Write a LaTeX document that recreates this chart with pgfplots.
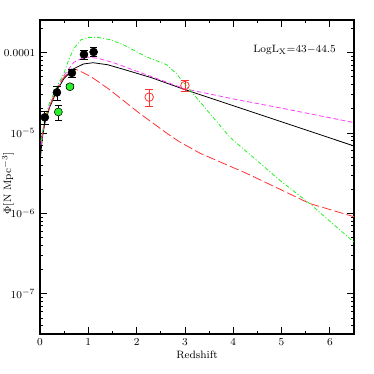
\documentclass[border=0pt]{standalone}
\usepackage{pgfplots}
\pgfplotsset{compat=1.18}
\definecolor{cgreen}{RGB}{40,240,40}
\definecolor{cred}{RGB}{255,50,50}
\definecolor{cmag}{RGB}{255,60,255}
\begin{document}
\begin{tikzpicture}
\begin{axis}[
  scale only axis, width=235.5pt, height=235.5pt,
  xmin=0, xmax=6.5, ymode=log, ymin=3.16e-8, ymax=2.55e-4,
  xtick={0,1,2,3,4,5,6}, minor x tick num=1,
  ytick={1e-7,1e-6,1e-5,1e-4},
  yticklabels={$10^{-7}$,$10^{-6}$,$10^{-5}$,0.0001},
  minor ytick={4e-8,5e-8,6e-8,7e-8,8e-8,9e-8,
    2e-7,3e-7,4e-7,5e-7,6e-7,7e-7,8e-7,9e-7,
    2e-6,3e-6,4e-6,5e-6,6e-6,7e-6,8e-6,9e-6,
    2e-5,3e-5,4e-5,5e-5,6e-5,7e-5,8e-5,9e-5,2e-4},
  tick pos=both, tick align=inside,
  major tick length=5pt, minor tick length=2.5pt,
  axis line style={line width=0.8pt}, tick style={line width=0.6pt, black},
  font=\footnotesize,
  xlabel={Redshift}, ylabel={$\Phi$[N Mpc$^{-3}$]},
  x label style={at={(axis description cs:0.5,-0.067)}, anchor=center},
  y label style={at={(axis description cs:-0.102,0.48)}, anchor=center},
  clip=true,
]
% curves
\addplot[black, line width=0.6pt] coordinates {
(0.01,5.0e-6) (0.05,8.9e-6) (0.1,1.32e-5) (0.2,2.09e-5) (0.35,3.39e-5)
(0.5,4.79e-5) (0.7,6.31e-5) (0.9,7.24e-5) (1.1,7.5e-5) (1.4,7.08e-5)
(1.8,6.03e-5) (2.3,4.9e-5) (3.0,3.47e-5) (4.0,2.19e-5) (5.0,1.38e-5) (6.5,6.9e-6)};
\addplot[cmag, line width=0.6pt, dash pattern=on 3.5pt off 2pt] coordinates {
(0.02,7.1e-6) (0.05,9.5e-6) (0.1,1.38e-5) (0.2,2.19e-5) (0.35,3.55e-5)
(0.5,5.25e-5) (0.7,7.59e-5) (0.9,8.71e-5) (1.0,8.81e-5) (1.2,8.51e-5)
(1.5,7.59e-5) (2.0,5.89e-5) (2.5,4.57e-5) (3.0,3.55e-5) (4.0,2.66e-5)
(5.0,2.04e-5) (6.5,1.35e-5)};
\addplot[cred, line width=0.6pt, dash pattern=on 7pt off 2.5pt] coordinates {
(0.02,7.9e-6) (0.05,1.0e-5) (0.1,1.38e-5) (0.2,2.19e-5) (0.35,3.55e-5)
(0.5,5.01e-5) (0.65,6.03e-5) (0.75,6.17e-5) (0.9,5.62e-5) (1.06,5.01e-5)
(1.44,3.47e-5) (2.06,1.76e-5) (2.62,1.0e-5) (2.89,7.76e-6) (3.31,5.62e-6)
(4.27,3.16e-6) (4.9,2.09e-6) (5.58,1.33e-6) (6.5,9.1e-7)};
\addplot[cgreen, line width=0.6pt, dash pattern=on 3pt off 1.5pt on 0.8pt off 1.5pt] coordinates {
(0.02,7.9e-6) (0.05,1.05e-5) (0.1,1.51e-5) (0.2,2.4e-5) (0.35,3.8e-5)
(0.5,5.62e-5) (0.6,8.3e-5) (0.7,1.12e-4) (0.85,1.45e-4) (1.0,1.55e-4)
(1.2,1.55e-4) (1.45,1.45e-4) (1.72,1.26e-4) (2.2,8.9e-5) (2.62,7.1e-5)
(2.82,5.5e-5) (3.1,3.45e-5) (3.58,1.58e-5) (3.93,8.9e-6) (4.27,5.9e-6)
(4.62,3.9e-6) (4.96,2.6e-6) (5.58,1.33e-6) (6.5,4.37e-7)};
% data points
\addplot[only marks, mark=*, mark size=3pt, black,
  error bars/.cd, y dir=both, y explicit relative,
  error mark options={rotate=90, mark size=2.8pt, line width=0.6pt},
  error bar style={line width=0.6pt}]
  coordinates {
(0.1,1.57e-5) +- (0,0.18)
(0.35,3.2e-5) +- (0,0.2)
(0.66,5.6e-5) +- (0,0.12)
(0.91,9.5e-5) +- (0,0.12)
(1.11,1.02e-4) +- (0,0.13)};
\addplot[only marks, mark=*, mark size=3pt, draw=black, fill=cgreen,
  mark options={draw=black, fill=cgreen},
  error bars/.cd, y dir=both, y explicit relative,
  error mark options={rotate=90, mark size=2.8pt, line width=0.6pt, black},
  error bar style={line width=0.6pt, black}]
  coordinates {
(0.38,1.83e-5) +- (0,0.22)
(0.62,3.77e-5) +- (0,0.06)};
\addplot[only marks, mark=o, mark size=3.2pt, cred, mark options={line width=0.6pt},
  error bars/.cd, y dir=both, y explicit relative,
  error mark options={rotate=90, mark size=3pt, line width=0.6pt, cred},
  error bar style={line width=0.6pt, cred}]
  coordinates {
(2.26,2.8e-5) +- (0,0.24)
(3.0,3.9e-5) +- (0,0.16)};
\node[font=\footnotesize] at (axis cs:5.27,1.08e-4) {LogL$_{\rm X}$=43$-$44.5};
\end{axis}
\pgfresetboundingbox
\path ([shift={(-30pt,-30pt)}]current axis.south west) rectangle ([shift={(15pt,15pt)}]current axis.north east);
\end{tikzpicture}
\end{document}
